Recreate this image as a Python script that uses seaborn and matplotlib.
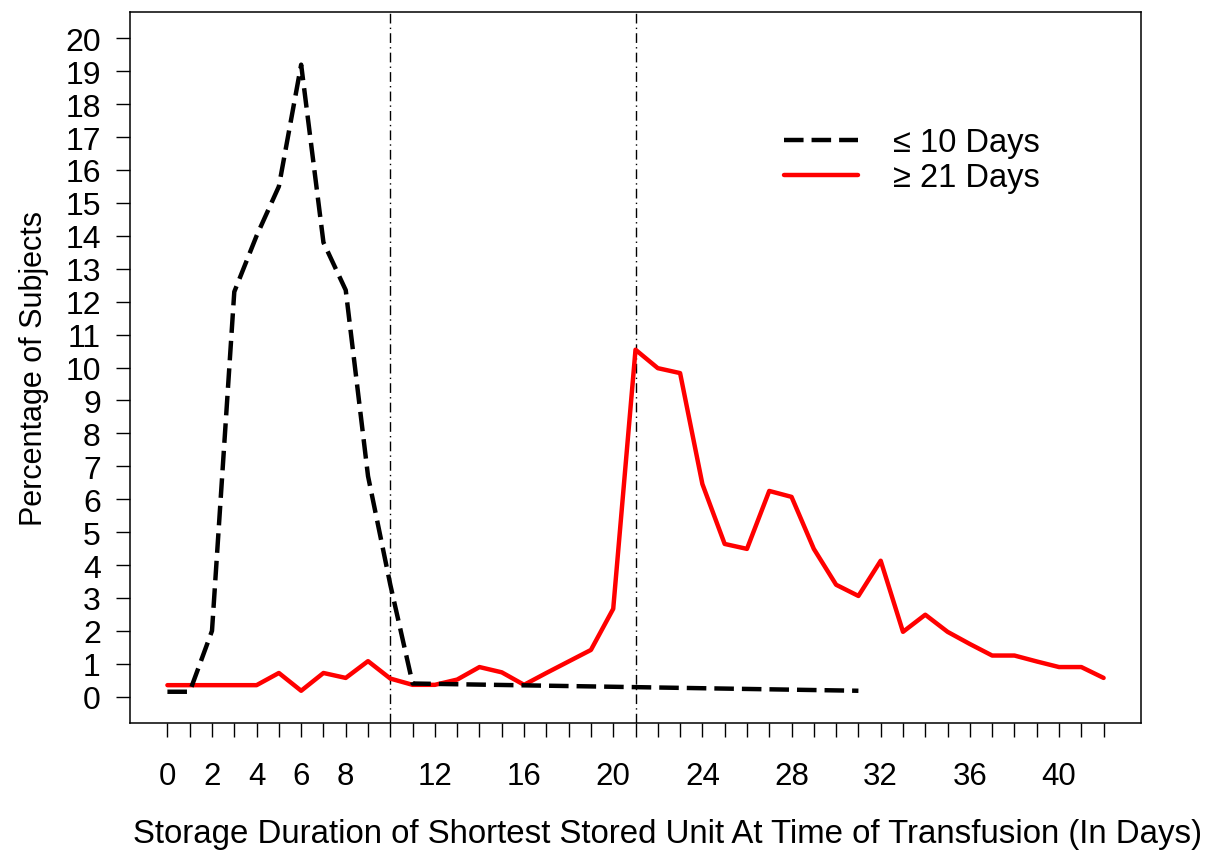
import matplotlib
matplotlib.use("Agg")
import matplotlib.pyplot as plt
from matplotlib.lines import Line2D
import seaborn as sns
import pandas as pd

# ---- data ----
short_days = [0, 1, 2, 3, 4, 5, 6, 7, 8, 9, 10, 11, 31]
short_pct = [0.15, 0.15, 2.0, 12.3, 14.0, 15.5, 19.2, 13.8, 12.35, 6.7, 3.4, 0.4, 0.18]

long_days = list(range(0, 43))
long_pct = [0.35, 0.35, 0.35, 0.35, 0.35, 0.72, 0.18, 0.72, 0.57, 1.08, 0.55,
            0.36, 0.36, 0.52, 0.9, 0.74, 0.36, 0.72, 1.07, 1.42, 2.67, 10.54,
            9.98, 9.83, 6.46, 4.64, 4.49, 6.25, 6.07, 4.49, 3.4, 3.06, 4.13,
            1.97, 2.49, 1.97, 1.6, 1.25, 1.25, 1.07, 0.9, 0.9, 0.57]

ref_lines = [10, 21]
x_ticks = list(range(0, 43))
x_labeled = [0, 2, 4, 6, 8, 12, 16, 20, 24, 28, 32, 36, 40]
y_ticks = list(range(0, 21))
legend_labels = ["\u2264 10 Days", "\u2265 21 Days"]

sns.set_theme(style="ticks")
plt.rcParams['font.family'] = ['Liberation Sans', 'DejaVu Sans']
plt.rcParams['text.color'] = 'black'

fig = plt.figure(figsize=(12.09, 8.54), dpi=100)
ax = fig.add_axes([0.1075, 0.1522, 0.8363, 0.8326])

df_s = pd.DataFrame({"day": short_days, "pct": short_pct})
df_l = pd.DataFrame({"day": long_days, "pct": long_pct})

sns.lineplot(data=df_l, x="day", y="pct", ax=ax, color="#ff0000", linewidth=3.2,
             zorder=2)
sns.lineplot(data=df_s, x="day", y="pct", ax=ax, color="black", linewidth=3.2,
             zorder=3)
ax.lines[-1].set_dashes((4.4, 1.8))
ax.lines[-1].set_dash_capstyle("butt")

for v in ref_lines:
    ax.axvline(v, color="black", linewidth=1.0, dashes=(7, 3, 1, 3), zorder=1)

ax.set_xlim(-1.68, 43.68)
ax.set_ylim(-0.8, 20.8)
ax.set_xticks(x_ticks)
ax.set_xticklabels([str(t) if t in x_labeled else "" for t in x_ticks])
ax.set_yticks(y_ticks)
ax.set_yticklabels([str(t) for t in y_ticks])
ax.tick_params(axis="x", length=10, width=1.0, pad=17, labelsize=22.5, colors="black")
ax.tick_params(axis="y", length=10, width=1.0, pad=11, labelsize=23, colors="black")

for s in ax.spines.values():
    s.set_visible(True)
    s.set_color("black")
    s.set_linewidth(1.1)

ax.set_xlabel("Storage Duration of Shortest Stored Unit At Time of Transfusion (In Days)",
              fontsize=23.8, labelpad=20, color="black")
ax.xaxis.label.set_x(0.532)
ax.set_ylabel("Percentage of Subjects", fontsize=22, labelpad=12, color="black")

handles = [Line2D([0], [0], color="black", linewidth=3.2, dashes=(4.4, 1.8)),
           Line2D([0], [0], color="#ff0000", linewidth=3.2)]
ax.legend(handles, legend_labels, loc="upper left", bbox_to_anchor=(0.647, 0.838),
          frameon=False, fontsize=23.5, handlelength=2.25, handletextpad=1.1,
          labelspacing=0.12, borderpad=0, borderaxespad=0, labelcolor="black")

fig.savefig("out.png", dpi=100)
